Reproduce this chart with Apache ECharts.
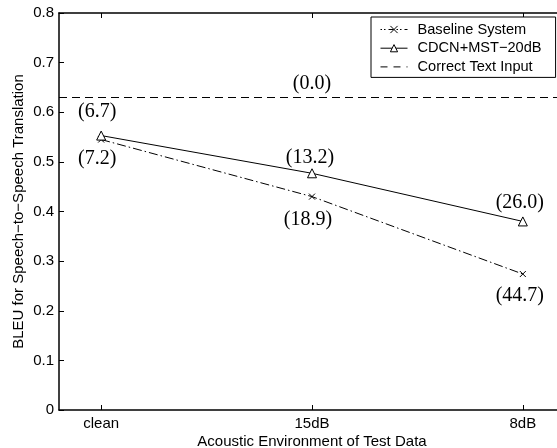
<!DOCTYPE html>
<html>
<head>
<meta charset="utf-8">
<script src="https://cdn.jsdelivr.net/npm/echarts@6/dist/echarts.min.js"></script>
<style>
html,body{margin:0;padding:0;background:#fff;}
#chart{width:557px;height:448px;}
</style>
</head>
<body>
<div id="chart"></div>
<script>
// ---- data ----
const categories = ['clean', '15dB', '8dB'];
const categoryPositions = [1, 2, 3];
const baselineValues = [0.545, 0.430, 0.274];
const cdcnValues = [0.553, 0.477, 0.380];
const correctTextValue = 0.631;
const baselineLabels = ['(7.2)', '(18.9)', '(44.7)'];
const cdcnLabels = ['(6.7)', '(13.2)', '(26.0)'];
const correctTextLabel = '(0.0)';
const seriesNames = ['Baseline System', 'CDCN+MST\u221220dB', 'Correct Text Input'];
const xRange = [0.8, 3.2];
const yRange = [0, 0.8];

// ---- styling (not data) ----
const baselineLabelOffsets = [[-4, 19], [-4, 23], [-3, 22]];
const cdcnLabelOffsets = [[-4, -24], [-2, -16], [-3, -19]];
const sans = 'Liberation Sans, Arial, Helvetica, sans-serif';
const serif = 'Liberation Serif, Times New Roman, serif';
const labelFont = { fontFamily: serif, fontSize: 20, color: '#000' };
const crossPath = 'path://M0,0L10,10M10,0L0,10';
const dashDot = [9, 3, 1.5, 3];
const legendDashDot = [1.5, 2, 1.5, 3, 5, 3];
const dashed = [8, 5];

function buildData(values, labels, offsets) {
  return values.map((v, i) => ({
    value: [categoryPositions[i], v],
    label: {
      show: true,
      position: 'inside',
      offset: offsets[i],
      formatter: labels[i],
      ...labelFont
    }
  }));
}

const catMap = {};
categoryPositions.forEach((p, i) => { catMap[p] = categories[i]; });

const chart = echarts.init(document.getElementById('chart'), null, { renderer: 'canvas' });
chart.setOption({
  animation: false,
  backgroundColor: '#fff',
  grid: { left: 59, top: 13, bottom: 38, right: -8, containLabel: false, outerBoundsMode: 'none' },
  legend: {
    orient: 'vertical',
    left: 371,
    top: 17,
    backgroundColor: '#fff',
    borderColor: '#000',
    borderWidth: 1,
    borderRadius: 0,
    padding: [5, 14, 3, 9],
    itemWidth: 27,
    itemHeight: 9,
    itemGap: 3.7,
    textStyle: { fontFamily: sans, fontSize: 14.6, color: '#000', lineHeight: 15, padding: [0, 0, 0, 5] },
    data: [
      { name: seriesNames[0], lineStyle: { width: 1, type: legendDashDot, color: '#000', opacity: 1 }, itemStyle: { color: '#000', borderColor: '#000', borderWidth: 1 } },
      { name: seriesNames[1], lineStyle: { width: 1, type: 'solid', color: '#000', opacity: 1 }, itemStyle: { color: '#fff', borderColor: '#000', borderWidth: 1 } },
      { name: seriesNames[2], lineStyle: { width: 1, type: [7, 6], color: '#000', opacity: 1 }, itemStyle: { opacity: 0, color: 'transparent', borderWidth: 0 } }
    ]
  },
  xAxis: [{
    type: 'value',
    min: xRange[0],
    max: xRange[1],
    position: 'bottom',
    name: 'Acoustic Environment of Test Data',
    nameLocation: 'middle',
    nameGap: 24,
    nameMoveOverlap: false,
    nameTextStyle: { fontFamily: sans, fontSize: 15, color: '#000' },
    axisLine: { show: true, onZero: false, lineStyle: { color: '#000', width: 1.5 } },
    axisTick: { show: true, inside: true, length: 5, customValues: categoryPositions, lineStyle: { color: '#000', width: 1 } },
    axisLabel: { show: true, customValues: categoryPositions, formatter: v => catMap[v] || '', fontFamily: sans, fontSize: 15, color: '#000', margin: 6 },
    splitLine: { show: false }
  }, {
    type: 'value',
    min: xRange[0],
    max: xRange[1],
    position: 'top',
    axisLine: { show: true, onZero: false, lineStyle: { color: '#000', width: 1.5 } },
    axisTick: { show: true, inside: true, length: 5, customValues: categoryPositions, lineStyle: { color: '#000', width: 1 } },
    axisLabel: { show: false },
    splitLine: { show: false }
  }],
  yAxis: {
    type: 'value',
    min: yRange[0],
    max: yRange[1],
    interval: 0.1,
    name: 'BLEU for Speech\u2212to\u2212Speech Translation',
    nameLocation: 'middle',
    nameGap: 33,
    nameMoveOverlap: false,
    nameTextStyle: { fontFamily: sans, fontSize: 15, color: '#000' },
    axisLine: { show: true, onZero: false, lineStyle: { color: '#000', width: 1.5 } },
    axisTick: { show: true, inside: true, length: 5, lineStyle: { color: '#000', width: 1 } },
    axisLabel: { fontFamily: sans, fontSize: 15, color: '#000', margin: 5, formatter: v => (v === 0 ? '0' : v.toFixed(1)) },
    splitLine: { show: false }
  },
  series: [{
    name: seriesNames[0],
    type: 'line',
    data: buildData(baselineValues, baselineLabels, baselineLabelOffsets),
    symbol: crossPath,
    symbolSize: 6,
    itemStyle: { color: '#000', borderColor: '#000', borderWidth: 1 },
    lineStyle: { color: '#000', width: 1, type: dashDot },
    z: 3
  }, {
    name: seriesNames[1],
    type: 'line',
    data: buildData(cdcnValues, cdcnLabels, cdcnLabelOffsets),
    symbol: 'triangle',
    symbolSize: 9,
    itemStyle: { color: '#fff', borderColor: '#000', borderWidth: 1 },
    lineStyle: { color: '#000', width: 1, type: 'solid' },
    z: 4
  }, {
    name: seriesNames[2],
    type: 'line',
    data: [[xRange[0], correctTextValue], [xRange[1], correctTextValue]],
    symbol: 'none',
    showSymbol: false,
    itemStyle: { color: '#000' },
    lineStyle: { color: '#000', width: 1, type: dashed, opacity: 0 },
    markLine: {
      silent: true,
      symbol: ['none', 'none'],
      lineStyle: { color: '#000', width: 1, type: dashed, opacity: 1 },
      label: { show: true, position: 'middle', formatter: correctTextLabel, distance: 4, ...labelFont },
      data: [{ yAxis: correctTextValue }]
    },
    z: 2
  }]
});
</script>
</body>
</html>
